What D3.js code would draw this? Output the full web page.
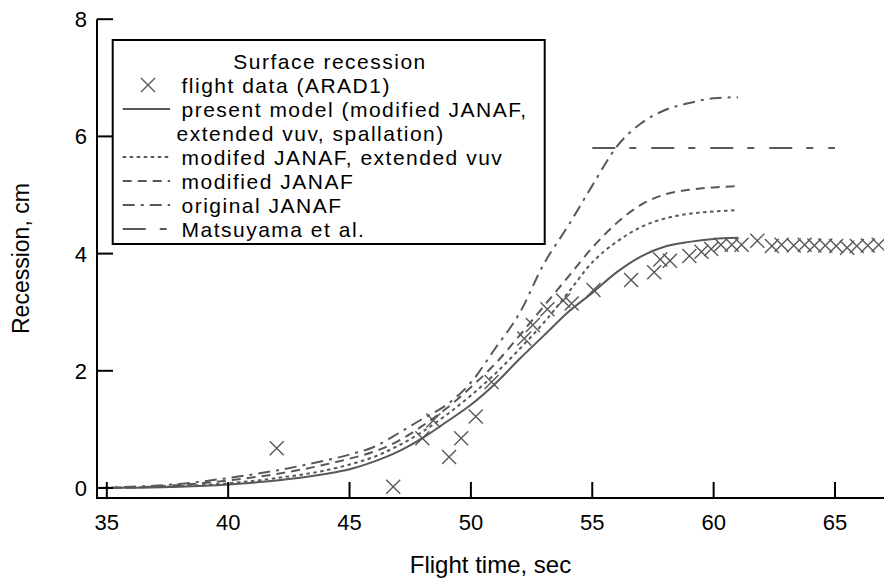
<!DOCTYPE html>
<html>
<head>
<meta charset="utf-8">
<script src="https://cdn.jsdelivr.net/npm/d3@7"></script>
<style>
  html, body { margin: 0; padding: 0; background: #fff; }
  svg { display: block; font-family: "Liberation Sans", Arial, sans-serif; }
</style>
</head>
<body>
<div id="chart"></div>
<script>
// flight time (s) samples for the model curves
const times = [34.6, 36, 38, 40, 42, 44, 45, 46, 47, 48, 49, 50, 51, 52, 53, 54, 55, 56, 57, 58, 59, 60, 61];

// recession (cm) for each model
const presentModel = [0, 0.005, 0.02, 0.06, 0.13, 0.24, 0.32, 0.45, 0.62, 0.85, 1.13, 1.42, 1.78, 2.2, 2.6, 3.0, 3.33, 3.68, 3.95, 4.12, 4.2, 4.25, 4.27];
const modJanafVuv  = [0, 0.01, 0.03, 0.08, 0.17, 0.3, 0.4, 0.53, 0.72, 0.96, 1.25, 1.58, 1.95, 2.37, 2.82, 3.33, 3.85, 4.2, 4.45, 4.6, 4.68, 4.72, 4.74];
const modJanaf     = [0, 0.01, 0.05, 0.13, 0.24, 0.4, 0.5, 0.62, 0.8, 1.06, 1.36, 1.72, 2.12, 2.6, 3.1, 3.6, 4.1, 4.52, 4.83, 5.01, 5.09, 5.13, 5.15];
const origJanaf    = [0, 0.02, 0.07, 0.17, 0.3, 0.47, 0.57, 0.7, 0.93, 1.18, 1.42, 1.8, 2.38, 2.98, 3.82, 4.47, 5.16, 5.82, 6.22, 6.45, 6.57, 6.65, 6.67];

// Matsuyama et al. (constant level)
const matsuyamaT = [55, 65];
const matsuyamaR = [5.8, 5.8];

// flight data (ARAD1)
const flightT = [42.0, 46.8, 48.0, 48.45, 49.1, 49.6, 50.2, 50.85, 52.2, 52.55, 53.15, 53.8, 54.15, 55.05, 56.6, 57.55, 57.8, 58.2, 59.0, 59.5, 59.9, 60.3, 60.75, 61.15, 61.8, 62.4, 62.8, 63.3, 63.75, 64.15, 64.6, 65.05, 65.5, 65.9, 66.35, 66.8];
const flightR = [0.68, 0.02, 0.85, 1.15, 0.53, 0.85, 1.22, 1.81, 2.55, 2.78, 3.05, 3.2, 3.15, 3.38, 3.55, 3.68, 3.9, 3.88, 3.96, 4.03, 4.08, 4.15, 4.15, 4.15, 4.22, 4.13, 4.15, 4.14, 4.15, 4.14, 4.14, 4.13, 4.1, 4.13, 4.14, 4.15];

const xTicks = [35, 40, 45, 50, 55, 60, 65];
const yTicks = [0, 2, 4, 6, 8];

const legendTitle = "Surface recession";
const legendLabels = [
  ["flight data (ARAD1)"],
  ["present model (modified JANAF,", "extended vuv, spallation)"],
  ["modifed JANAF, extended vuv"],
  ["modified JANAF"],
  ["original JANAF"],
  ["Matsuyama et al."]
];

const W = 884, H = 581;
const ink = "#585858";

const svg = d3.select("#chart").append("svg")
    .attr("width", W)
    .attr("height", H);

const x = d3.scaleLinear().domain([35, 65]).range([106.8, 835]);
const y = d3.scaleLinear().domain([0, 8]).range([488, 19.2]);
const x0 = 97, xEnd = W, yBase = 498;

// model lines
const series = [
  { vals: presentModel, dash: null },
  { vals: modJanafVuv, dash: "3.5,3.5" },
  { vals: modJanaf, dash: "9,6" },
  { vals: origJanaf, dash: "12,6,3,6" }
];
const line = d3.line()
    .x(d => x(d[0]))
    .y(d => y(d[1]))
    .curve(d3.curveMonotoneX);

series.forEach(s => {
  svg.append("path")
      .datum(times.map((t, i) => [t, s.vals[i]]))
      .attr("d", line)
      .attr("fill", "none")
      .attr("stroke", ink)
      .attr("stroke-width", 2)
      .attr("stroke-dasharray", s.dash);
});

svg.append("path")
    .datum(matsuyamaT.map((t, i) => [t, matsuyamaR[i]]))
    .attr("d", d3.line().x(d => x(d[0])).y(d => y(d[1])))
    .attr("fill", "none")
    .attr("stroke", ink)
    .attr("stroke-width", 2)
    .attr("stroke-dasharray", "23,14,7,15");

// crosses
const cross = (g, cx, cy, r) => {
  g.append("path")
      .attr("d", `M${cx - r},${cy - r}L${cx + r},${cy + r}M${cx - r},${cy + r}L${cx + r},${cy - r}`)
      .attr("stroke", ink)
      .attr("stroke-width", 1.4)
      .attr("fill", "none");
};
const marks = svg.append("g");
flightT.forEach((t, i) => cross(marks, x(t), y(flightR[i]), 7));

// axes
const axes = svg.append("g").attr("stroke", "#000").attr("stroke-width", 2);
axes.append("line").attr("x1", x0).attr("x2", x0).attr("y1", y(8)).attr("y2", yBase + 1);
axes.append("line").attr("x1", x0 - 1).attr("x2", xEnd).attr("y1", yBase).attr("y2", yBase);
axes.selectAll(".yt").data(yTicks).enter().append("line")
    .attr("x1", x0).attr("x2", x0 + 16)
    .attr("y1", d => y(d)).attr("y2", d => y(d));
axes.selectAll(".xt").data(xTicks).enter().append("line")
    .attr("x1", d => x(d)).attr("x2", d => x(d))
    .attr("y1", yBase).attr("y2", yBase - 16);

svg.selectAll(".ytl").data(yTicks).enter().append("text")
    .attr("x", 87).attr("y", d => y(d))
    .attr("dy", "0.36em")
    .attr("text-anchor", "end")
    .attr("font-size", 22)
    .text(d => d);
svg.selectAll(".xtl").data(xTicks).enter().append("text")
    .attr("x", d => x(d)).attr("y", 530)
    .attr("text-anchor", "middle")
    .attr("font-size", 22)
    .text(d => d);

svg.append("text")
    .attr("x", (x0 + xEnd) / 2).attr("y", 573)
    .attr("text-anchor", "middle")
    .attr("font-size", 24)
    .text("Flight time, sec");
svg.append("text")
    .attr("transform", `translate(29,${(y(8) + yBase) / 2}) rotate(-90)`)
    .attr("text-anchor", "middle")
    .attr("font-size", 23)
    .text("Recession, cm");

// legend
const lg = svg.append("g");
lg.append("rect")
    .attr("x", 112.7).attr("y", 40)
    .attr("width", 432).attr("height", 204)
    .attr("fill", "#fff")
    .attr("stroke", "#000")
    .attr("stroke-width", 2);
lg.append("text")
    .attr("x", 330).attr("y", 61).attr("dy", "0.36em")
    .attr("text-anchor", "middle")
    .attr("font-size", 21)
    .attr("letter-spacing", 1.5)
    .text(legendTitle);

const rowY = [85, 109, 157, 181, 205, 229];
const sampleDash = [null, null, "3.5,3.5", "9,6", "12,6,3,6", "23,14,7,15"];
legendLabels.forEach((lines, i) => {
  const ry = rowY[i];
  if (i === 0) {
    cross(lg, 148, ry, 7);
  } else {
    lg.append("line")
        .attr("x1", 122.7).attr("x2", 170)
        .attr("y1", ry).attr("y2", ry)
        .attr("stroke", ink)
        .attr("stroke-width", 2)
        .attr("stroke-dasharray", sampleDash[i]);
  }
  lines.forEach((txt, j) => {
    lg.append("text")
        .attr("x", j === 0 ? 181.5 : 176.5)
        .attr("y", ry + j * 24).attr("dy", "0.36em")
        .attr("font-size", 21)
        .attr("letter-spacing", 1.5)
        .text(txt);
  });
});
</script>
</body>
</html>
